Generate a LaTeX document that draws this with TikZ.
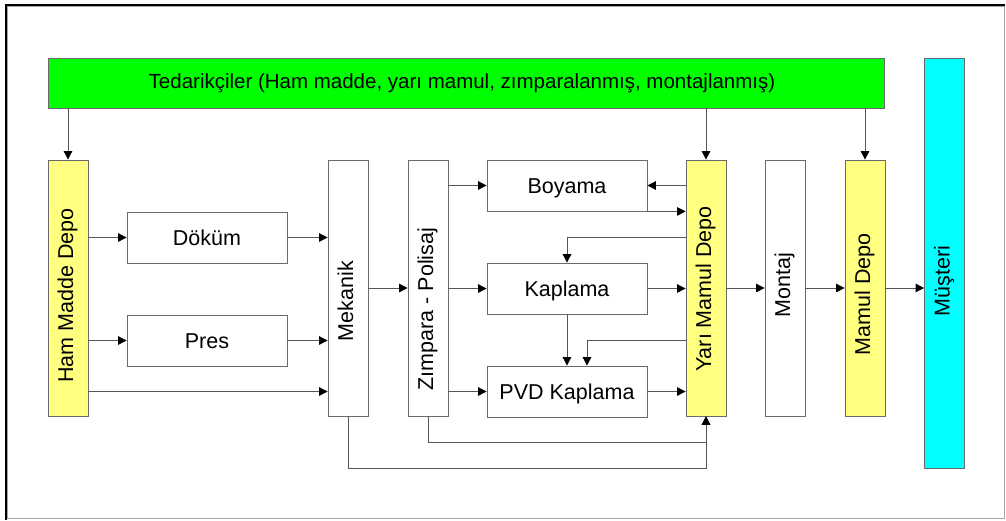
\documentclass[tikz,border=0pt]{standalone}
\usepackage{fontspec}
\setmainfont{Liberation Sans}
\usetikzlibrary{arrows.meta,calc}
\definecolor{boxline}{HTML}{6A6A6A}
\definecolor{wireline}{HTML}{555555}
\definecolor{depoyellow}{HTML}{FFFF80}
\definecolor{supgreen}{HTML}{00FF00}
\definecolor{custcyan}{HTML}{00FFFF}
% upright label reading bottom to top; #1 is extra room left after the text
\newcommand{\vlabel}[2]{\rotatebox{90}{\rule[-6pt]{0pt}{22pt}#2\hspace*{#1}}}
\begin{document}
\begin{tikzpicture}[x=1pt,y=-1pt,
  lbl/.style={font=\fontsize{21.5}{25}\selectfont},
  blk/.style={draw=boxline,line width=0.8pt,fill=white,inner sep=0pt,
              minimum width=160pt,minimum height=51pt,lbl,
              text height=15.3pt,text depth=0pt},
  vblk/.style={draw=boxline,line width=0.8pt,fill=white,inner sep=0pt,
               minimum width=40pt,minimum height=256pt,lbl},
  depo/.style={vblk,fill=depoyellow},
  arr/.style={draw=wireline,line width=0.8pt,
              -{Triangle[length=8.5pt,width=8.5pt,color=black]}},
  wire/.style={draw=wireline,line width=0.8pt}]
\useasboundingbox (0,0) rectangle (1006,520);
% outer frame: grey border with a heavy dark top/left edge
\draw[gray!70,line width=1.2pt] (7.5,6.5) rectangle (1004.5,518.8);
\draw[black,line width=2.4pt] (6,519.5) -- (6,4.8) -- (1005,4.8);

% suppliers and customer
\node[draw=boxline,line width=0.8pt,fill=supgreen,minimum width=836pt,minimum height=50pt,inner sep=0pt,
      font=\fontsize{20.5}{24}\selectfont]
  (ted) at (466,83) {\hspace*{-8pt}Tedarikçiler (Ham madde, yarı mamul, zımparalanmış, montajlanmış)};
\node[vblk,fill=custcyan,minimum height=410pt] (mus) at (944.5,263) {\vlabel{36pt}{Müşteri}};

% stores and process columns
\node[depo] (hmd) at (68,288) {\vlabel{15pt}{Ham Madde Depo}};
\node[blk] (dok) at (207,237.5) {Döküm};
\node[blk] (pres) at (207,340.5) {Pres};
\node[vblk] (mek) at (348,288) {\vlabel{26pt}{Mekanik}};
\node[vblk] (zim) at (428,288) {\vlabel{42pt}{Zımpara - Polisaj}};
\node[blk] (boy) at (567,185.5) {Boyama};
\node[blk] (kap) at (567,288.5) {Kaplama};
\node[blk] (pvd) at (567,391.5) {PVD Kaplama};
\node[depo] (ymd) at (706,288) {\vlabel{2pt}{Yarı Mamul Depo}};
\node[vblk] (mon) at (785,288) {\vlabel{-6pt}{Montaj}};
\node[depo] (md) at (865,288) {\vlabel{13pt}{Mamul Depo}};

% supplier deliveries
\draw[arr] (hmd.north |- ted.south) -- (hmd.north);
\draw[arr] (ymd.north |- ted.south) -- (ymd.north);
\draw[arr] (md.north |- ted.south) -- (md.north);

% raw material flow
\draw[arr] (hmd.east |- dok) -- (dok.west);
\draw[arr] (dok.east) -- (mek.west |- dok);
\draw[arr] (hmd.east |- pres) -- (pres.west);
\draw[arr] (pres.east) -- (mek.west |- pres);
\draw[arr] (hmd.east |- pvd) -- (mek.west |- pvd);
\draw[arr] (mek.east) -- (zim.west);

% finishing operations
\draw[arr] (zim.east |- boy) -- (boy.west);
\draw[arr] (zim.east |- kap) -- (kap.west);
\draw[arr] (zim.east |- pvd) -- (pvd.west);
\draw[arr] (ymd.west |- boy) -- (boy.east);
\draw[arr] (boy.south east) -- (ymd.west |- boy.south east);
\draw[arr] (ymd.west |- dok) -| (kap.north);
\draw[arr] (kap.east) -- (ymd.west |- kap);
\draw[arr] (kap.south) -- (pvd.north);
\draw[arr] (ymd.west |- pres) -| ([xshift=20pt]pvd.north);
\draw[arr] (pvd.east) -- (ymd.west |- pvd);

% direct routes into semi-finished store
\draw[arr] (zim.south) -- ++(0,25.5) -| (ymd.south);
\draw[arr] (mek.south) -- ++(0,51.5) -| (ymd.south);

% assembly and shipping
\draw[arr] (ymd.east) -- (mon.west);
\draw[arr] (mon.east) -- (md.west);
\draw[arr] (md.east) -- (mus.west |- md);
\end{tikzpicture}
\end{document}
